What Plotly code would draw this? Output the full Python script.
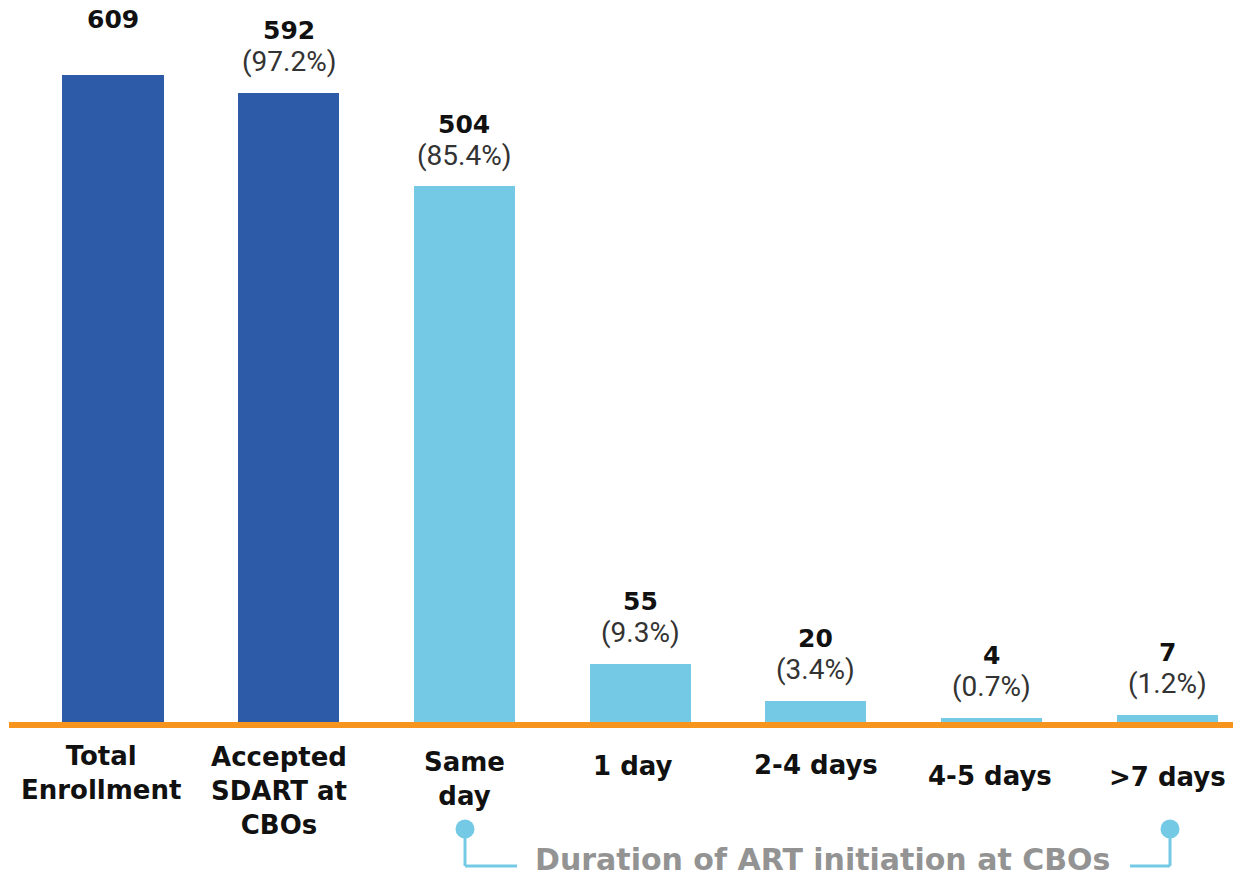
import plotly.graph_objects as go

categories = ["Total<br>Enrollment", "Accepted<br>SDART at<br>CBOs", "Same<br>day", "1 day", "2-4 days", "4-5 days", ">7 days"]
values = [609, 592, 504, 55, 20, 4, 7]
percents = ["", "(97.2%)", "(85.4%)", "(9.3%)", "(3.4%)", "(0.7%)", "(1.2%)"]
colors = ["#2E5BA8", "#2E5BA8", "#74C9E5", "#74C9E5", "#74C9E5", "#74C9E5", "#74C9E5"]
bracket_title = "Duration of ART initiation at CBOs"

W, H = 1233, 880
MT, MB = 0, 150
PH = H - MT - MB

def px_x(px):
    return px / W

def px_y(py):
    return (PH - (py - MT)) / PH

xs = list(range(len(categories)))

fig = go.Figure()
fig.add_trace(go.Bar(
    x=xs, y=values, marker=dict(color=colors, line=dict(width=0)),
    width=0.575, hoverinfo="skip"
))

annotations = []
# value labels
for i, (v, p) in enumerate(zip(values, percents)):
    annotations.append(dict(x=i, y=v, xref="x", yref="y", text="<b>%d</b>" % v,
                            showarrow=False, yanchor="middle", yshift=62 if p else 55,
                            font=dict(family="DejaVu Sans", size=25, color="#111111")))
    if p:
        annotations.append(dict(x=i, y=v, xref="x", yref="y", text=p,
                                showarrow=False, yanchor="middle", yshift=31,
                                font=dict(family="Roboto", size=28, color="#333333")))

# category labels (individual vertical placements as in reference)
label_centers = [773, 791, 779, 766, 765, 776, 777]
label_xshift = [-12, -10, 0, -8, 0, -2, 0]
for i, (c, cy, xs_) in enumerate(zip(categories, label_centers, label_xshift)):
    annotations.append(dict(x=i, y=px_y(cy), xref="x", yref="paper", text="<b>%s</b>" % c,
                            showarrow=False, yanchor="middle", xshift=xs_,
                            font=dict(family="DejaVu Sans", size=26, color="#111111")))

annotations.append(dict(x=px_x(533), y=px_y(859), xref="paper", yref="paper",
                        text="<b>%s</b>" % bracket_title, showarrow=False,
                        xanchor="left", yanchor="middle",
                        font=dict(family="DejaVu Sans", size=30, color="#939393")))

shapes = []
# orange baseline
shapes.append(dict(type="line", xref="paper", yref="paper", x0=px_x(9), x1=1.0,
                   y0=px_y(725), y1=px_y(725), line=dict(color="#F7941D", width=6)))
bc = "#74C9E5"
# left bracket
shapes.append(dict(type="line", xref="paper", yref="paper", x0=px_x(465), x1=px_x(465),
                   y0=px_y(829), y1=px_y(866), line=dict(color=bc, width=3)))
shapes.append(dict(type="line", xref="paper", yref="paper", x0=px_x(465), x1=px_x(517),
                   y0=px_y(866), y1=px_y(866), line=dict(color=bc, width=3)))
# right bracket
shapes.append(dict(type="line", xref="paper", yref="paper", x0=px_x(1170), x1=px_x(1170),
                   y0=px_y(829), y1=px_y(866), line=dict(color=bc, width=3)))
shapes.append(dict(type="line", xref="paper", yref="paper", x0=px_x(1130), x1=px_x(1170),
                   y0=px_y(866), y1=px_y(866), line=dict(color=bc, width=3)))
for cx in (465, 1170):
    shapes.append(dict(type="circle", xref="paper", yref="paper",
                       x0=px_x(cx - 9.5), x1=px_x(cx + 9.5), y0=px_y(829 + 9.5), y1=px_y(829 - 9.5),
                       fillcolor=bc, line=dict(width=0)))

fig.update_layout(
    width=W, height=H,
    margin=dict(l=0, r=0, t=MT, b=MB),
    paper_bgcolor="white", plot_bgcolor="white",
    showlegend=False,
    bargap=0,
    xaxis=dict(range=[-0.643, 6.374], showticklabels=False, showgrid=False,
               zeroline=False, showline=False, ticks=""),
    yaxis=dict(range=[-7.53, 679.2], showticklabels=False, showgrid=False,
               zeroline=False, showline=False, ticks=""),
    annotations=annotations,
    shapes=shapes,
)

fig.write_html("out.html")
